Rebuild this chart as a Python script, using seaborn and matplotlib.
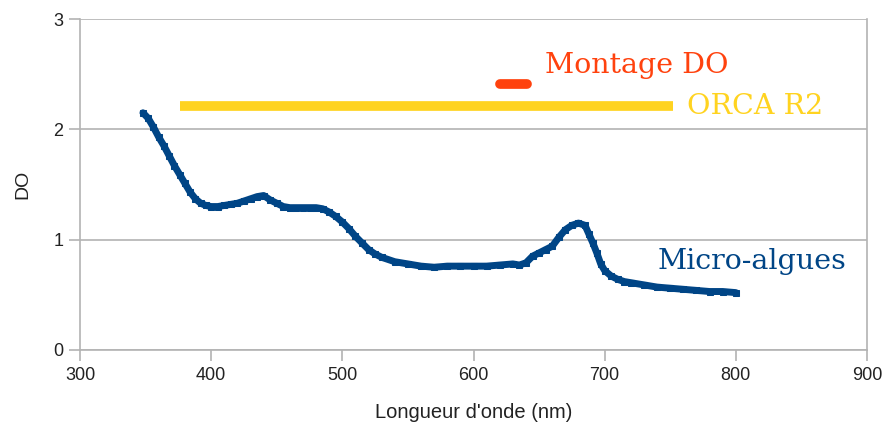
import matplotlib
matplotlib.use("Agg")
import matplotlib.pyplot as plt
import seaborn as sns
import pandas as pd

# Absorbance spectrum of the micro-algae sample
wavelength_nm = [348, 352, 356, 360, 364, 368, 372, 376, 380, 384, 388, 392, 396, 400,
                 405, 410, 415, 420, 425, 430, 435, 440, 445, 450, 455, 460, 465, 470,
                 475, 480, 485, 490, 495, 500, 505, 510, 515, 520, 525, 530, 540, 550,
                 560, 570, 580, 590, 600, 610, 620, 630, 635, 640, 645, 650, 655, 660,
                 665, 670, 675, 680, 685, 688, 691, 694, 697, 700, 705, 710, 715, 720,
                 730, 740, 750, 760, 770, 780, 790, 800]
do_algae = [2.15, 2.10, 2.02, 1.93, 1.85, 1.76, 1.67, 1.59, 1.51, 1.43, 1.37, 1.33, 1.31, 1.30,
            1.30, 1.31, 1.32, 1.33, 1.35, 1.37, 1.39, 1.40, 1.36, 1.33, 1.30, 1.29, 1.29, 1.29,
            1.29, 1.29, 1.28, 1.25, 1.21, 1.16, 1.10, 1.03, 0.97, 0.91, 0.87, 0.84, 0.80, 0.78,
            0.76, 0.75, 0.76, 0.76, 0.76, 0.76, 0.77, 0.78, 0.77, 0.79, 0.85, 0.88, 0.91, 0.94,
            1.02, 1.09, 1.13, 1.15, 1.13, 1.05, 0.97, 0.88, 0.78, 0.72, 0.67, 0.64, 0.62, 0.61,
            0.59, 0.57, 0.56, 0.55, 0.54, 0.53, 0.53, 0.52]

# Spectral ranges of the camera and of the OD setup
orca_range = [376, 752]
orca_level = [2.21, 2.21]
montage_range = [620, 641]
montage_level = [2.41, 2.41]

labels = ["Micro-algues", "ORCA R2", "Montage DO"]
x_ticks = [300, 400, 500, 600, 700, 800, 900]
y_ticks = [0, 1, 2, 3]

BLUE = "#004586"
YELLOW = "#ffd320"
RED = "#ff420e"
GRID = "#b3b3b3"
TEXT = "#222222"

sns.set_theme(style="white")
plt.rcParams["font.family"] = ["Liberation Sans", "DejaVu Sans"]

fig = plt.figure(figsize=(8.85, 4.25), dpi=100)
ax = fig.add_axes([80 / 885, 75 / 425, 787 / 885, 331 / 425])

algae = pd.DataFrame({"nm": wavelength_nm, "do": do_algae})
orca = pd.DataFrame({"nm": orca_range, "do": orca_level})
montage = pd.DataFrame({"nm": montage_range, "do": montage_level})

sns.lineplot(data=algae, x="nm", y="do", ax=ax, color=BLUE, linewidth=5,
             marker="s", markersize=5, markeredgecolor=BLUE, zorder=4)
sns.lineplot(data=orca, x="nm", y="do", ax=ax, color=YELLOW, linewidth=7,
             solid_capstyle="butt", zorder=3)
sns.lineplot(data=montage, x="nm", y="do", ax=ax, color=RED, linewidth=7,
             solid_capstyle="round", zorder=3)

serif = ["DejaVu Serif"]
ax.text(740.5, 0.734, labels[0], color=BLUE, fontsize=20.5, family=serif,
        va="baseline", ha="left")
ax.text(763, 2.139, labels[1], color=YELLOW, fontsize=20.5, family=serif,
        va="baseline", ha="left")
ax.text(654.5, 2.508, labels[2], color=RED, fontsize=20.5, family=serif,
        va="baseline", ha="left")

ax.set_xlim(300, 900)
ax.set_ylim(0, 3)
ax.set_xticks(x_ticks)
ax.set_yticks(y_ticks)
ax.yaxis.grid(True, color=GRID, linewidth=1.2)
ax.xaxis.grid(False)
for side in ["left", "bottom", "right"]:
    ax.spines[side].set_visible(True)
    ax.spines[side].set_color(GRID)
    ax.spines[side].set_linewidth(1.2)
ax.spines["top"].set_visible(False)
ax.tick_params(axis="both", which="both", direction="out", length=8, width=1.2,
               color=GRID, labelsize=13, labelcolor=TEXT, pad=4,
               left=True, bottom=True)

ax.set_xlabel("Longueur d'onde (nm)", fontsize=14.5, color=TEXT, labelpad=14)
ax.set_ylabel("DO", fontsize=14, color=TEXT, labelpad=16)

fig.savefig("out.png", dpi=100)
